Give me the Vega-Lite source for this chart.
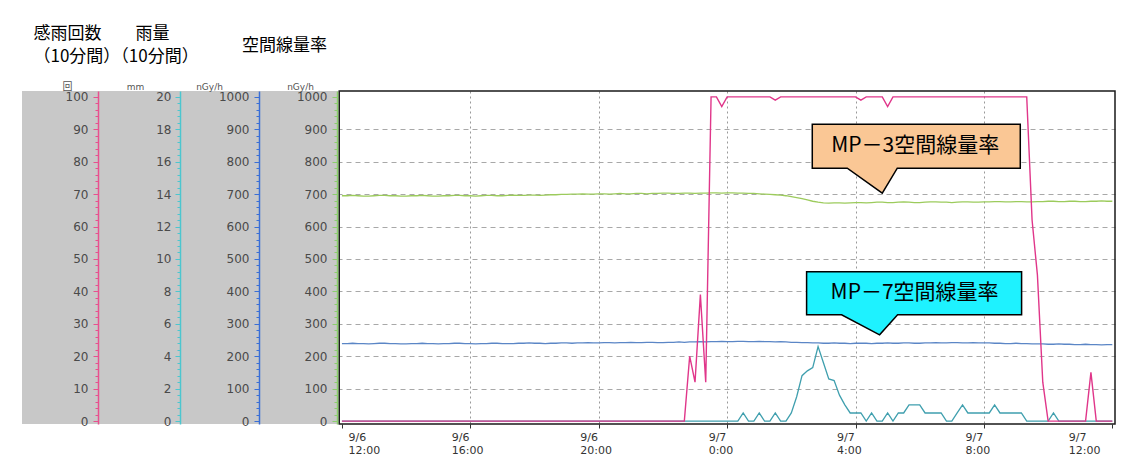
{
  "$schema": "https://vega.github.io/schema/vega-lite/v6.json",
  "width": 1093,
  "height": 333,
  "autosize": {"type": "none"},
  "padding": {"left": 22, "top": 91, "right": 12, "bottom": 37},
  "background": "white",
  "config": {
    "view": {"stroke": null, "fill": "white"},
    "font": "DejaVu Sans"
  },
  "data": {
    "values": [
      {"t": "2014-09-06T12:00", "rain_count": 0, "rain_mm": 0, "mp3": 695, "mp7": 239},
      {"t": "2014-09-06T12:10", "rain_count": 0, "rain_mm": 0, "mp3": 695, "mp7": 239},
      {"t": "2014-09-06T12:20", "rain_count": 0, "rain_mm": 0, "mp3": 696, "mp7": 240},
      {"t": "2014-09-06T12:30", "rain_count": 0, "rain_mm": 0, "mp3": 695, "mp7": 239},
      {"t": "2014-09-06T12:40", "rain_count": 0, "rain_mm": 0, "mp3": 694, "mp7": 239},
      {"t": "2014-09-06T12:50", "rain_count": 0, "rain_mm": 0, "mp3": 694, "mp7": 238},
      {"t": "2014-09-06T13:00", "rain_count": 0, "rain_mm": 0, "mp3": 695, "mp7": 239},
      {"t": "2014-09-06T13:10", "rain_count": 0, "rain_mm": 0, "mp3": 696, "mp7": 240},
      {"t": "2014-09-06T13:20", "rain_count": 0, "rain_mm": 0, "mp3": 696, "mp7": 240},
      {"t": "2014-09-06T13:30", "rain_count": 0, "rain_mm": 0, "mp3": 695, "mp7": 239},
      {"t": "2014-09-06T13:40", "rain_count": 0, "rain_mm": 0, "mp3": 695, "mp7": 239},
      {"t": "2014-09-06T13:50", "rain_count": 0, "rain_mm": 0, "mp3": 694, "mp7": 238},
      {"t": "2014-09-06T14:00", "rain_count": 0, "rain_mm": 0, "mp3": 694, "mp7": 238},
      {"t": "2014-09-06T14:10", "rain_count": 0, "rain_mm": 0, "mp3": 695, "mp7": 239},
      {"t": "2014-09-06T14:20", "rain_count": 0, "rain_mm": 0, "mp3": 695, "mp7": 239},
      {"t": "2014-09-06T14:30", "rain_count": 0, "rain_mm": 0, "mp3": 696, "mp7": 240},
      {"t": "2014-09-06T14:40", "rain_count": 0, "rain_mm": 0, "mp3": 695, "mp7": 239},
      {"t": "2014-09-06T14:50", "rain_count": 0, "rain_mm": 0, "mp3": 694, "mp7": 239},
      {"t": "2014-09-06T15:00", "rain_count": 0, "rain_mm": 0, "mp3": 694, "mp7": 238},
      {"t": "2014-09-06T15:10", "rain_count": 0, "rain_mm": 0, "mp3": 695, "mp7": 239},
      {"t": "2014-09-06T15:20", "rain_count": 0, "rain_mm": 0, "mp3": 695, "mp7": 239},
      {"t": "2014-09-06T15:30", "rain_count": 0, "rain_mm": 0, "mp3": 696, "mp7": 240},
      {"t": "2014-09-06T15:40", "rain_count": 0, "rain_mm": 0, "mp3": 696, "mp7": 240},
      {"t": "2014-09-06T15:50", "rain_count": 0, "rain_mm": 0, "mp3": 695, "mp7": 239},
      {"t": "2014-09-06T16:00", "rain_count": 0, "rain_mm": 0, "mp3": 695, "mp7": 239},
      {"t": "2014-09-06T16:10", "rain_count": 0, "rain_mm": 0, "mp3": 694, "mp7": 238},
      {"t": "2014-09-06T16:20", "rain_count": 0, "rain_mm": 0, "mp3": 695, "mp7": 239},
      {"t": "2014-09-06T16:30", "rain_count": 0, "rain_mm": 0, "mp3": 696, "mp7": 239},
      {"t": "2014-09-06T16:40", "rain_count": 0, "rain_mm": 0, "mp3": 696, "mp7": 240},
      {"t": "2014-09-06T16:50", "rain_count": 0, "rain_mm": 0, "mp3": 695, "mp7": 240},
      {"t": "2014-09-06T17:00", "rain_count": 0, "rain_mm": 0, "mp3": 695, "mp7": 239},
      {"t": "2014-09-06T17:10", "rain_count": 0, "rain_mm": 0, "mp3": 696, "mp7": 239},
      {"t": "2014-09-06T17:20", "rain_count": 0, "rain_mm": 0, "mp3": 697, "mp7": 239},
      {"t": "2014-09-06T17:30", "rain_count": 0, "rain_mm": 0, "mp3": 696, "mp7": 240},
      {"t": "2014-09-06T17:40", "rain_count": 0, "rain_mm": 0, "mp3": 696, "mp7": 240},
      {"t": "2014-09-06T17:50", "rain_count": 0, "rain_mm": 0, "mp3": 697, "mp7": 241},
      {"t": "2014-09-06T18:00", "rain_count": 0, "rain_mm": 0, "mp3": 697, "mp7": 240},
      {"t": "2014-09-06T18:10", "rain_count": 0, "rain_mm": 0, "mp3": 696, "mp7": 240},
      {"t": "2014-09-06T18:20", "rain_count": 0, "rain_mm": 0, "mp3": 697, "mp7": 239},
      {"t": "2014-09-06T18:30", "rain_count": 0, "rain_mm": 0, "mp3": 698, "mp7": 240},
      {"t": "2014-09-06T18:40", "rain_count": 0, "rain_mm": 0, "mp3": 698, "mp7": 240},
      {"t": "2014-09-06T18:50", "rain_count": 0, "rain_mm": 0, "mp3": 699, "mp7": 241},
      {"t": "2014-09-06T19:00", "rain_count": 0, "rain_mm": 0, "mp3": 699, "mp7": 241},
      {"t": "2014-09-06T19:10", "rain_count": 0, "rain_mm": 0, "mp3": 700, "mp7": 240},
      {"t": "2014-09-06T19:20", "rain_count": 0, "rain_mm": 0, "mp3": 700, "mp7": 241},
      {"t": "2014-09-06T19:30", "rain_count": 0, "rain_mm": 0, "mp3": 701, "mp7": 241},
      {"t": "2014-09-06T19:40", "rain_count": 0, "rain_mm": 0, "mp3": 700, "mp7": 242},
      {"t": "2014-09-06T19:50", "rain_count": 0, "rain_mm": 0, "mp3": 700, "mp7": 241},
      {"t": "2014-09-06T20:00", "rain_count": 0, "rain_mm": 0, "mp3": 701, "mp7": 241},
      {"t": "2014-09-06T20:10", "rain_count": 0, "rain_mm": 0, "mp3": 701, "mp7": 242},
      {"t": "2014-09-06T20:20", "rain_count": 0, "rain_mm": 0, "mp3": 700, "mp7": 242},
      {"t": "2014-09-06T20:30", "rain_count": 0, "rain_mm": 0, "mp3": 701, "mp7": 241},
      {"t": "2014-09-06T20:40", "rain_count": 0, "rain_mm": 0, "mp3": 702, "mp7": 242},
      {"t": "2014-09-06T20:50", "rain_count": 0, "rain_mm": 0, "mp3": 701, "mp7": 242},
      {"t": "2014-09-06T21:00", "rain_count": 0, "rain_mm": 0, "mp3": 701, "mp7": 243},
      {"t": "2014-09-06T21:10", "rain_count": 0, "rain_mm": 0, "mp3": 702, "mp7": 242},
      {"t": "2014-09-06T21:20", "rain_count": 0, "rain_mm": 0, "mp3": 702, "mp7": 242},
      {"t": "2014-09-06T21:30", "rain_count": 0, "rain_mm": 0, "mp3": 701, "mp7": 243},
      {"t": "2014-09-06T21:40", "rain_count": 0, "rain_mm": 0, "mp3": 702, "mp7": 243},
      {"t": "2014-09-06T21:50", "rain_count": 0, "rain_mm": 0, "mp3": 702, "mp7": 242},
      {"t": "2014-09-06T22:00", "rain_count": 0, "rain_mm": 0, "mp3": 703, "mp7": 242},
      {"t": "2014-09-06T22:10", "rain_count": 0, "rain_mm": 0, "mp3": 703, "mp7": 243},
      {"t": "2014-09-06T22:20", "rain_count": 0, "rain_mm": 0, "mp3": 702, "mp7": 243},
      {"t": "2014-09-06T22:30", "rain_count": 0, "rain_mm": 0, "mp3": 702, "mp7": 244},
      {"t": "2014-09-06T22:40", "rain_count": 0, "rain_mm": 0, "mp3": 703, "mp7": 243},
      {"t": "2014-09-06T22:50", "rain_count": 20, "rain_mm": 0, "mp3": 703, "mp7": 244},
      {"t": "2014-09-06T23:00", "rain_count": 12, "rain_mm": 0, "mp3": 702, "mp7": 244},
      {"t": "2014-09-06T23:10", "rain_count": 39, "rain_mm": 0, "mp3": 703, "mp7": 245},
      {"t": "2014-09-06T23:20", "rain_count": 12, "rain_mm": 0, "mp3": 703, "mp7": 244},
      {"t": "2014-09-06T23:30", "rain_count": 100, "rain_mm": 0, "mp3": 704, "mp7": 245},
      {"t": "2014-09-06T23:40", "rain_count": 100, "rain_mm": 0, "mp3": 704, "mp7": 245},
      {"t": "2014-09-06T23:50", "rain_count": 97, "rain_mm": 0, "mp3": 703, "mp7": 246},
      {"t": "2014-09-07T00:00", "rain_count": 100, "rain_mm": 0, "mp3": 704, "mp7": 245},
      {"t": "2014-09-07T00:10", "rain_count": 100, "rain_mm": 0, "mp3": 704, "mp7": 245},
      {"t": "2014-09-07T00:20", "rain_count": 100, "rain_mm": 0, "mp3": 703, "mp7": 246},
      {"t": "2014-09-07T00:30", "rain_count": 100, "rain_mm": 0.5, "mp3": 703, "mp7": 246},
      {"t": "2014-09-07T00:40", "rain_count": 100, "rain_mm": 0, "mp3": 702, "mp7": 245},
      {"t": "2014-09-07T00:50", "rain_count": 100, "rain_mm": 0, "mp3": 702, "mp7": 245},
      {"t": "2014-09-07T01:00", "rain_count": 100, "rain_mm": 0.5, "mp3": 701, "mp7": 246},
      {"t": "2014-09-07T01:10", "rain_count": 100, "rain_mm": 0, "mp3": 700, "mp7": 245},
      {"t": "2014-09-07T01:20", "rain_count": 100, "rain_mm": 0, "mp3": 699, "mp7": 245},
      {"t": "2014-09-07T01:30", "rain_count": 99, "rain_mm": 0.5, "mp3": 698, "mp7": 244},
      {"t": "2014-09-07T01:40", "rain_count": 100, "rain_mm": 0, "mp3": 697, "mp7": 245},
      {"t": "2014-09-07T01:50", "rain_count": 100, "rain_mm": 0, "mp3": 695, "mp7": 244},
      {"t": "2014-09-07T02:00", "rain_count": 100, "rain_mm": 0.5, "mp3": 692, "mp7": 243},
      {"t": "2014-09-07T02:10", "rain_count": 100, "rain_mm": 1.5, "mp3": 689, "mp7": 243},
      {"t": "2014-09-07T02:20", "rain_count": 100, "rain_mm": 2.8, "mp3": 686, "mp7": 242},
      {"t": "2014-09-07T02:30", "rain_count": 100, "rain_mm": 3.1, "mp3": 682, "mp7": 242},
      {"t": "2014-09-07T02:40", "rain_count": 100, "rain_mm": 3.3, "mp3": 678, "mp7": 241},
      {"t": "2014-09-07T02:50", "rain_count": 100, "rain_mm": 4.6, "mp3": 675, "mp7": 241},
      {"t": "2014-09-07T03:00", "rain_count": 100, "rain_mm": 3.6, "mp3": 673, "mp7": 240},
      {"t": "2014-09-07T03:10", "rain_count": 100, "rain_mm": 2.6, "mp3": 672, "mp7": 240},
      {"t": "2014-09-07T03:20", "rain_count": 100, "rain_mm": 2.5, "mp3": 673, "mp7": 241},
      {"t": "2014-09-07T03:30", "rain_count": 100, "rain_mm": 1.6, "mp3": 673, "mp7": 240},
      {"t": "2014-09-07T03:40", "rain_count": 100, "rain_mm": 1.0, "mp3": 672, "mp7": 240},
      {"t": "2014-09-07T03:50", "rain_count": 100, "rain_mm": 0.5, "mp3": 673, "mp7": 239},
      {"t": "2014-09-07T04:00", "rain_count": 100, "rain_mm": 0.5, "mp3": 674, "mp7": 240},
      {"t": "2014-09-07T04:10", "rain_count": 99, "rain_mm": 0.5, "mp3": 674, "mp7": 240},
      {"t": "2014-09-07T04:20", "rain_count": 100, "rain_mm": 0, "mp3": 673, "mp7": 240},
      {"t": "2014-09-07T04:30", "rain_count": 100, "rain_mm": 0.5, "mp3": 674, "mp7": 239},
      {"t": "2014-09-07T04:40", "rain_count": 100, "rain_mm": 0, "mp3": 675, "mp7": 240},
      {"t": "2014-09-07T04:50", "rain_count": 100, "rain_mm": 0, "mp3": 675, "mp7": 240},
      {"t": "2014-09-07T05:00", "rain_count": 97, "rain_mm": 0.5, "mp3": 674, "mp7": 241},
      {"t": "2014-09-07T05:10", "rain_count": 100, "rain_mm": 0, "mp3": 674, "mp7": 240},
      {"t": "2014-09-07T05:20", "rain_count": 100, "rain_mm": 0.5, "mp3": 675, "mp7": 240},
      {"t": "2014-09-07T05:30", "rain_count": 100, "rain_mm": 0.5, "mp3": 676, "mp7": 241},
      {"t": "2014-09-07T05:40", "rain_count": 100, "rain_mm": 1.0, "mp3": 675, "mp7": 241},
      {"t": "2014-09-07T05:50", "rain_count": 100, "rain_mm": 1.0, "mp3": 674, "mp7": 240},
      {"t": "2014-09-07T06:00", "rain_count": 100, "rain_mm": 1.0, "mp3": 674, "mp7": 240},
      {"t": "2014-09-07T06:10", "rain_count": 100, "rain_mm": 0.5, "mp3": 675, "mp7": 241},
      {"t": "2014-09-07T06:20", "rain_count": 100, "rain_mm": 0.5, "mp3": 676, "mp7": 241},
      {"t": "2014-09-07T06:30", "rain_count": 100, "rain_mm": 0.5, "mp3": 676, "mp7": 242},
      {"t": "2014-09-07T06:40", "rain_count": 100, "rain_mm": 0.5, "mp3": 675, "mp7": 241},
      {"t": "2014-09-07T06:50", "rain_count": 100, "rain_mm": 0, "mp3": 675, "mp7": 241},
      {"t": "2014-09-07T07:00", "rain_count": 100, "rain_mm": 0, "mp3": 674, "mp7": 242},
      {"t": "2014-09-07T07:10", "rain_count": 100, "rain_mm": 0.5, "mp3": 675, "mp7": 242},
      {"t": "2014-09-07T07:20", "rain_count": 100, "rain_mm": 1.0, "mp3": 676, "mp7": 241},
      {"t": "2014-09-07T07:30", "rain_count": 100, "rain_mm": 0.5, "mp3": 676, "mp7": 241},
      {"t": "2014-09-07T07:40", "rain_count": 100, "rain_mm": 0.5, "mp3": 675, "mp7": 242},
      {"t": "2014-09-07T07:50", "rain_count": 100, "rain_mm": 0.5, "mp3": 675, "mp7": 241},
      {"t": "2014-09-07T08:00", "rain_count": 100, "rain_mm": 0.5, "mp3": 676, "mp7": 241},
      {"t": "2014-09-07T08:10", "rain_count": 100, "rain_mm": 0.5, "mp3": 676, "mp7": 241},
      {"t": "2014-09-07T08:20", "rain_count": 100, "rain_mm": 1.0, "mp3": 677, "mp7": 240},
      {"t": "2014-09-07T08:30", "rain_count": 100, "rain_mm": 0.5, "mp3": 677, "mp7": 240},
      {"t": "2014-09-07T08:40", "rain_count": 100, "rain_mm": 0.5, "mp3": 676, "mp7": 239},
      {"t": "2014-09-07T08:50", "rain_count": 100, "rain_mm": 0.5, "mp3": 676, "mp7": 239},
      {"t": "2014-09-07T09:00", "rain_count": 100, "rain_mm": 0.5, "mp3": 677, "mp7": 240},
      {"t": "2014-09-07T09:10", "rain_count": 100, "rain_mm": 0.5, "mp3": 677, "mp7": 239},
      {"t": "2014-09-07T09:20", "rain_count": 100, "rain_mm": 0, "mp3": 676, "mp7": 239},
      {"t": "2014-09-07T09:30", "rain_count": 62, "rain_mm": 0, "mp3": 676, "mp7": 238},
      {"t": "2014-09-07T09:40", "rain_count": 45, "rain_mm": 0, "mp3": 677, "mp7": 238},
      {"t": "2014-09-07T09:50", "rain_count": 12, "rain_mm": 0, "mp3": 677, "mp7": 238},
      {"t": "2014-09-07T10:00", "rain_count": 0, "rain_mm": 0, "mp3": 678, "mp7": 237},
      {"t": "2014-09-07T10:10", "rain_count": 0, "rain_mm": 0.5, "mp3": 678, "mp7": 237},
      {"t": "2014-09-07T10:20", "rain_count": 0, "rain_mm": 0, "mp3": 677, "mp7": 238},
      {"t": "2014-09-07T10:30", "rain_count": 0, "rain_mm": 0, "mp3": 677, "mp7": 237},
      {"t": "2014-09-07T10:40", "rain_count": 0, "rain_mm": 0, "mp3": 678, "mp7": 237},
      {"t": "2014-09-07T10:50", "rain_count": 0, "rain_mm": 0, "mp3": 678, "mp7": 236},
      {"t": "2014-09-07T11:00", "rain_count": 0, "rain_mm": 0, "mp3": 677, "mp7": 236},
      {"t": "2014-09-07T11:10", "rain_count": 0, "rain_mm": 0, "mp3": 677, "mp7": 237},
      {"t": "2014-09-07T11:20", "rain_count": 15, "rain_mm": 0, "mp3": 678, "mp7": 236},
      {"t": "2014-09-07T11:30", "rain_count": 0, "rain_mm": 0, "mp3": 678, "mp7": 236},
      {"t": "2014-09-07T11:40", "rain_count": 0, "rain_mm": 0, "mp3": 679, "mp7": 235},
      {"t": "2014-09-07T11:50", "rain_count": 0, "rain_mm": 0, "mp3": 678, "mp7": 236},
      {"t": "2014-09-07T12:00", "rain_count": 0, "rain_mm": 0, "mp3": 678, "mp7": 236}
    ]
  },
  "resolve": {"scale": {"y": "independent"}},
  "layer": [
    {
      "data": {"values": [{}]},
      "mark": {"type": "rect", "fill": "#c8c8c8"},
      "encoding": {
        "x": {
          "datum": {"year": 2014, "month": 9, "date": 6, "hours": 2, "minutes": 2},
          "type": "temporal",
          "scale": {"domain": [{"year": 2014, "month": 9, "date": 6, "hours": 2, "minutes": 2}, {"year": 2014, "month": 9, "date": 7, "hours": 12, "minutes": 5}]},
          "axis": {
            "values": [
              {"year": 2014, "month": 9, "date": 6, "hours": 12},
              {"year": 2014, "month": 9, "date": 6, "hours": 16},
              {"year": 2014, "month": 9, "date": 6, "hours": 20},
              {"year": 2014, "month": 9, "date": 7, "hours": 0},
              {"year": 2014, "month": 9, "date": 7, "hours": 4},
              {"year": 2014, "month": 9, "date": 7, "hours": 8},
              {"year": 2014, "month": 9, "date": 7, "hours": 12}
            ],
            "labelExpr": "[timeFormat(datum.value, '%-m/%-d'), timeFormat(datum.value, '%-H:%M')]",
            "labelAlign": "left",
            "labelBaseline": "top",
            "labelOffset": {
              "condition": [
                {"test": "date(datum.value) === 6 && hours(datum.value) === 12", "value": 6},
                {"test": "date(datum.value) === 7 && hours(datum.value) === 12", "value": -44}
              ],
              "value": -19
            },
            "labelFlush": false,
            "labelOverlap": false,
            "labelFont": "DejaVu Sans",
            "labelFontSize": 11,
            "labelColor": "#333333",
            "labelLineHeight": 13,
            "labelPadding": 3,
            "tickSize": 4,
            "tickColor": "#333333",
            "domain": false,
            "grid": true,
            "gridDash": [2, 3],
            "gridColor": "#999999",
            "gridOpacity": {"condition": {"test": "hours(datum.value) === 12", "value": 0}, "value": 1},
            "title": "空間線量率",
            "titleFont": "Noto Sans CJK JP",
            "titleFontSize": 17,
            "titleFontWeight": "normal",
            "titleColor": "#000000",
            "titleX": 262,
            "titleY": -379,
            "titleAlign": "center",
            "titleBaseline": "middle",
            "zindex": 0
          }
        },
        "x2": {"datum": {"year": 2014, "month": 9, "date": 6, "hours": 11, "minutes": 55}},
        "y": {
          "datum": -9,
          "type": "quantitative",
          "scale": {"domain": [-9, 1018], "nice": false, "zero": false},
          "axis": {
            "orient": "left",
            "offset": 0,
            "domain": false,
            "ticks": false,
            "labels": false,
            "grid": false,
            "title": ["感雨回数　　雨量", "（10分間）（10分間）"],
            "titleFont": "Noto Sans CJK JP",
            "titleFontSize": 17,
            "titleFontWeight": "normal",
            "titleColor": "#000000",
            "titleLineHeight": 23,
            "titleAngle": 0,
            "titleAlign": "left",
            "titleBaseline": "middle",
            "titleX": 11,
            "titleY": -58,
            "zindex": 1
          }
        },
        "y2": {"datum": 1018}
      }
    },
    {
      "mark": {"type": "line", "color": "#9ccb5c", "strokeWidth": 1.3},
      "encoding": {
        "x": {"field": "t", "type": "temporal", "scale": {"domain": [{"year": 2014, "month": 9, "date": 6, "hours": 2, "minutes": 2}, {"year": 2014, "month": 9, "date": 7, "hours": 12, "minutes": 5}]}},
        "y": {
          "field": "mp3",
          "type": "quantitative",
          "scale": {"domain": [-9, 1018], "nice": false, "zero": false},
          "axis": {
            "orient": "left",
            "offset": -315,
            "values": [0, 20, 40, 60, 80, 100, 120, 140, 160, 180, 200, 220, 240, 260, 280, 300, 320, 340, 360, 380, 400, 420, 440, 460, 480, 500, 520, 540, 560, 580, 600, 620, 640, 660, 680, 700, 720, 740, 760, 780, 800, 820, 840, 860, 880, 900, 920, 940, 960, 980, 1000],
            "format": "d",
            "labelExpr": "datum.value % 100 === 0 ? datum.label : ''",
            "labelOverlap": false,
            "tickSize": {"condition": {"test": "datum.value % 100 === 0", "value": 5}, "value": 3},
            "domainColor": "#8ccf6e",
            "domainWidth": 1.5,
            "tickColor": "#8ccf6e",
            "labelColor": "#4a4a4a",
            "labelFont": "DejaVu Sans",
            "labelFontSize": 12,
            "labelPadding": 5,
            "grid": false,
            "title": "nGy/h",
            "titleFont": "DejaVu Sans",
            "titleFontSize": 9,
            "titleFontWeight": "normal",
            "titleColor": "#555555",
            "titleAngle": 0,
            "titleAlign": "center",
            "titleBaseline": "middle",
            "titleX": -37,
            "titleY": -5,
            "zindex": 1
          }
        }
      }
    },
    {
      "mark": {"type": "line", "color": "#5b86c6", "strokeWidth": 1.3},
      "encoding": {
        "x": {"field": "t", "type": "temporal", "scale": {"domain": [{"year": 2014, "month": 9, "date": 6, "hours": 2, "minutes": 2}, {"year": 2014, "month": 9, "date": 7, "hours": 12, "minutes": 5}]}},
        "y": {
          "field": "mp7",
          "type": "quantitative",
          "scale": {"domain": [-9, 1018], "nice": false, "zero": false},
          "axis": {
            "orient": "left",
            "offset": -237,
            "values": [0, 20, 40, 60, 80, 100, 120, 140, 160, 180, 200, 220, 240, 260, 280, 300, 320, 340, 360, 380, 400, 420, 440, 460, 480, 500, 520, 540, 560, 580, 600, 620, 640, 660, 680, 700, 720, 740, 760, 780, 800, 820, 840, 860, 880, 900, 920, 940, 960, 980, 1000],
            "format": "d",
            "labelExpr": "datum.value % 100 === 0 ? datum.label : ''",
            "labelOverlap": false,
            "tickSize": {"condition": {"test": "datum.value % 100 === 0", "value": 5}, "value": 3},
            "domainColor": "#3b6fd6",
            "domainWidth": 1.5,
            "tickColor": "#3b6fd6",
            "labelColor": "#4a4a4a",
            "labelFont": "DejaVu Sans",
            "labelFontSize": 12,
            "labelPadding": 5,
            "grid": false,
            "title": "nGy/h",
            "titleFont": "DejaVu Sans",
            "titleFontSize": 9,
            "titleFontWeight": "normal",
            "titleColor": "#555555",
            "titleAngle": 0,
            "titleAlign": "center",
            "titleBaseline": "middle",
            "titleX": -50,
            "titleY": -5,
            "zindex": 1
          }
        }
      }
    },
    {
      "mark": {"type": "line", "color": "#3f9fae", "strokeWidth": 1.3},
      "encoding": {
        "x": {"field": "t", "type": "temporal", "scale": {"domain": [{"year": 2014, "month": 9, "date": 6, "hours": 2, "minutes": 2}, {"year": 2014, "month": 9, "date": 7, "hours": 12, "minutes": 5}]}},
        "y": {
          "field": "rain_mm",
          "type": "quantitative",
          "scale": {"domain": [-0.18, 20.36], "nice": false, "zero": false},
          "axis": {
            "orient": "left",
            "offset": -158,
            "values": [0, 0.4, 0.8, 1.2, 1.6, 2, 2.4, 2.8, 3.2, 3.6, 4, 4.4, 4.8, 5.2, 5.6, 6, 6.4, 6.8, 7.2, 7.6, 8, 8.4, 8.8, 9.2, 9.6, 10, 10.4, 10.8, 11.2, 11.6, 12, 12.4, 12.8, 13.2, 13.6, 14, 14.4, 14.8, 15.2, 15.6, 16, 16.4, 16.8, 17.2, 17.6, 18, 18.4, 18.8, 19.2, 19.6, 20],
            "labelExpr": "abs(datum.value - 2 * round(datum.value / 2)) < 0.001 ? format(datum.value, 'd') : ''",
            "labelOverlap": false,
            "labelSeparation": 0,
            "tickSize": {"condition": {"test": "abs(datum.value - 2 * round(datum.value / 2)) < 0.001", "value": 5}, "value": 3},
            "domainColor": "#4cc6cf",
            "domainWidth": 1.5,
            "tickColor": "#4cc6cf",
            "labelColor": "#4a4a4a",
            "labelFont": "DejaVu Sans",
            "labelFontSize": 12,
            "labelPadding": 4,
            "grid": false,
            "title": "mm",
            "titleFont": "DejaVu Sans",
            "titleFontSize": 9,
            "titleFontWeight": "normal",
            "titleColor": "#555555",
            "titleAngle": 0,
            "titleAlign": "center",
            "titleBaseline": "middle",
            "titleX": -45,
            "titleY": -5,
            "zindex": 1
          }
        }
      }
    },
    {
      "mark": {"type": "line", "color": "#e0368a", "strokeWidth": 1.4},
      "encoding": {
        "x": {"field": "t", "type": "temporal", "scale": {"domain": [{"year": 2014, "month": 9, "date": 6, "hours": 2, "minutes": 2}, {"year": 2014, "month": 9, "date": 7, "hours": 12, "minutes": 5}]}},
        "y": {
          "field": "rain_count",
          "type": "quantitative",
          "scale": {"domain": [-0.9, 101.8], "nice": false, "zero": false},
          "axis": {
            "orient": "left",
            "offset": -76,
            "values": [0, 2, 4, 6, 8, 10, 12, 14, 16, 18, 20, 22, 24, 26, 28, 30, 32, 34, 36, 38, 40, 42, 44, 46, 48, 50, 52, 54, 56, 58, 60, 62, 64, 66, 68, 70, 72, 74, 76, 78, 80, 82, 84, 86, 88, 90, 92, 94, 96, 98, 100],
            "format": "d",
            "labelExpr": "datum.value % 10 === 0 ? datum.label : ''",
            "labelOverlap": false,
            "tickSize": {"condition": {"test": "datum.value % 10 === 0", "value": 5}, "value": 3},
            "domainColor": "#e8508e",
            "domainWidth": 1.5,
            "tickColor": "#e8508e",
            "labelColor": "#4a4a4a",
            "labelFont": "DejaVu Sans",
            "labelFontSize": 12,
            "labelPadding": 5,
            "grid": false,
            "title": "回",
            "titleFont": "Noto Sans CJK JP",
            "titleFontSize": 10,
            "titleFontWeight": "normal",
            "titleColor": "#555555",
            "titleAngle": 0,
            "titleAlign": "center",
            "titleBaseline": "middle",
            "titleX": -31,
            "titleY": -5,
            "zindex": 1
          }
        }
      }
    },
    {
      "data": {"values": [{}]},
      "mark": {"type": "rect", "filled": false, "stroke": "#1a1a1a", "strokeWidth": 1.5},
      "encoding": {
        "x": {"datum": {"year": 2014, "month": 9, "date": 6, "hours": 11, "minutes": 55}, "type": "temporal", "scale": {"domain": [{"year": 2014, "month": 9, "date": 6, "hours": 2, "minutes": 2}, {"year": 2014, "month": 9, "date": 7, "hours": 12, "minutes": 5}]}},
        "x2": {"datum": {"year": 2014, "month": 9, "date": 7, "hours": 12, "minutes": 5}},
        "y": {
          "datum": -9,
          "type": "quantitative",
          "scale": {"domain": [-9, 1018], "nice": false, "zero": false},
          "axis": {
            "orient": "left",
            "values": [100, 200, 300, 400, 500, 600, 700, 800, 900],
            "domain": false,
            "ticks": false,
            "labels": false,
            "title": null,
            "grid": true,
            "gridDash": [5, 4],
            "gridColor": "#a8a8a8",
            "gridWidth": 1,
            "zindex": 0
          }
        },
        "y2": {"datum": 1018}
      }
    },
    {
      "data": {"values": [{}]},
      "mark": {"type": "point", "shape": "M-0.7,-0.69H1.38V-0.25H0.15L0,0L-0.35,-0.25H-0.7Z", "size": 40000, "filled": true, "fill": "#fac795", "stroke": "#000000", "strokeWidth": 1.5, "opacity": 1},
      "encoding": {
        "x": {"datum": {"year": 2014, "month": 9, "date": 7, "hours": 4, "minutes": 50}, "type": "temporal", "scale": {"domain": [{"year": 2014, "month": 9, "date": 6, "hours": 2, "minutes": 2}, {"year": 2014, "month": 9, "date": 7, "hours": 12, "minutes": 5}]}},
        "y": {"datum": 703, "type": "quantitative", "scale": {"domain": [-9, 1018], "nice": false, "zero": false}, "axis": null}
      }
    },
    {
      "data": {"values": [{}]},
      "mark": {"type": "text", "text": "MP－3空間線量率", "font": "Noto Sans CJK JP", "fontSize": 21, "color": "#000000", "align": "center", "baseline": "middle", "dx": 33, "dy": -47},
      "encoding": {
        "x": {"datum": {"year": 2014, "month": 9, "date": 7, "hours": 4, "minutes": 50}, "type": "temporal", "scale": {"domain": [{"year": 2014, "month": 9, "date": 6, "hours": 2, "minutes": 2}, {"year": 2014, "month": 9, "date": 7, "hours": 12, "minutes": 5}]}},
        "y": {"datum": 703, "type": "quantitative", "scale": {"domain": [-9, 1018], "nice": false, "zero": false}, "axis": null}
      }
    },
    {
      "data": {"values": [{}]},
      "mark": {"type": "point", "shape": "M-0.73,-0.63H1.42V-0.2H0.18L0,0L-0.38,-0.2H-0.73Z", "size": 40000, "filled": true, "fill": "#1ef2ff", "stroke": "#000000", "strokeWidth": 1.5, "opacity": 1},
      "encoding": {
        "x": {"datum": {"year": 2014, "month": 9, "date": 7, "hours": 4, "minutes": 45}, "type": "temporal", "scale": {"domain": [{"year": 2014, "month": 9, "date": 6, "hours": 2, "minutes": 2}, {"year": 2014, "month": 9, "date": 7, "hours": 12, "minutes": 5}]}},
        "y": {"datum": 266, "type": "quantitative", "scale": {"domain": [-9, 1018], "nice": false, "zero": false}, "axis": null}
      }
    },
    {
      "data": {"values": [{}]},
      "mark": {"type": "text", "text": "MP－7空間線量率", "font": "Noto Sans CJK JP", "fontSize": 21, "color": "#000000", "align": "center", "baseline": "middle", "dx": 35, "dy": -42},
      "encoding": {
        "x": {"datum": {"year": 2014, "month": 9, "date": 7, "hours": 4, "minutes": 45}, "type": "temporal", "scale": {"domain": [{"year": 2014, "month": 9, "date": 6, "hours": 2, "minutes": 2}, {"year": 2014, "month": 9, "date": 7, "hours": 12, "minutes": 5}]}},
        "y": {"datum": 266, "type": "quantitative", "scale": {"domain": [-9, 1018], "nice": false, "zero": false}, "axis": null}
      }
    }
  ]
}
